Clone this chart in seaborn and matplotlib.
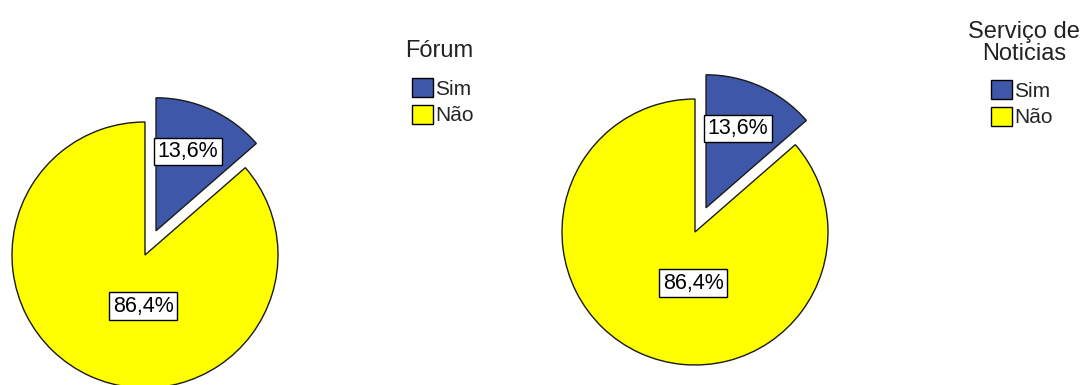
import matplotlib
matplotlib.use("Agg")
import matplotlib.pyplot as plt
from matplotlib.patches import Patch
import seaborn as sns

# Survey answers for each service (percent of respondents)
categories = ["Sim", "Não"]
forum_values = [13.6, 86.4]
noticias_values = [13.6, 86.4]
titles = ["Fórum", "Serviço de\nNoticias"]

sns.set_theme(style="white")
plt.rcParams["font.family"] = ["Liberation Sans", "DejaVu Sans"]
palette = sns.color_palette(["#3F57A8", "#FFFF00"])

label_size = 15.5
legend_size = 15

W, H = 1086, 385
fig = plt.figure(figsize=(W / 100, H / 100), dpi=100)

R_PX = 133          # pie radius in pixels
LIM = 1.5           # data half-range of each pie axes
SIDE = 2 * LIM * R_PX


def pct_label(p):
    return f"{p:.1f}%".replace(".", ",")


def draw_pie(values, cx, cy):
    left = (cx - SIDE / 2) / W
    bottom = (H - cy - SIDE / 2) / H
    ax = fig.add_axes([left, bottom, SIDE / W, SIDE / H])
    wedges, texts, autotexts = ax.pie(
        values,
        colors=palette,
        startangle=90,
        counterclock=False,
        explode=[0.2, 0.0],
        autopct=pct_label,
        pctdistance=0.655,
        wedgeprops=dict(edgecolor="#1a1a1a", linewidth=1.0),
        textprops=dict(fontsize=label_size, color="black"),
    )
    for t in autotexts:
        t.set_bbox(dict(boxstyle="square,pad=0.16", facecolor="white",
                        edgecolor="black", linewidth=1.0))
    # the large slice carries its label just below the centre
    autotexts[1].set_position((-0.015, -0.385))
    x, y = autotexts[0].get_position()
    autotexts[0].set_position((x - 0.03, y))
    ax.set_xlim(-LIM, LIM)
    ax.set_ylim(-LIM, LIM)
    ax.set_aspect("equal")
    ax.axis("off")
    return ax


draw_pie(forum_values, 145, 255)
draw_pie(noticias_values, 695, 232)


def draw_legend(title, title_x, title_base_y, box_x, box_top_y):
    fig.text(title_x / W, 1 - title_base_y / H, title, ha="center",
             va="baseline", fontsize=17, color="#222222",
             multialignment="center", linespacing=1.0)
    handles = [Patch(facecolor=c, edgecolor="black", linewidth=1.0)
               for c in palette]
    hs = 21 / (legend_size * 100 / 72)
    fig.legend(handles, categories, loc="upper left",
               bbox_to_anchor=(box_x / W, 1 - box_top_y / H),
               frameon=False, borderpad=0,
               prop=dict(size=legend_size),
               borderaxespad=0, handlelength=hs, handleheight=hs,
               handletextpad=0.12, labelspacing=0.3)


draw_legend(titles[0], 439, 57, 412, 78)
draw_legend(titles[1], 1024, 60, 991, 80)

fig.savefig("out.png", dpi=100)
